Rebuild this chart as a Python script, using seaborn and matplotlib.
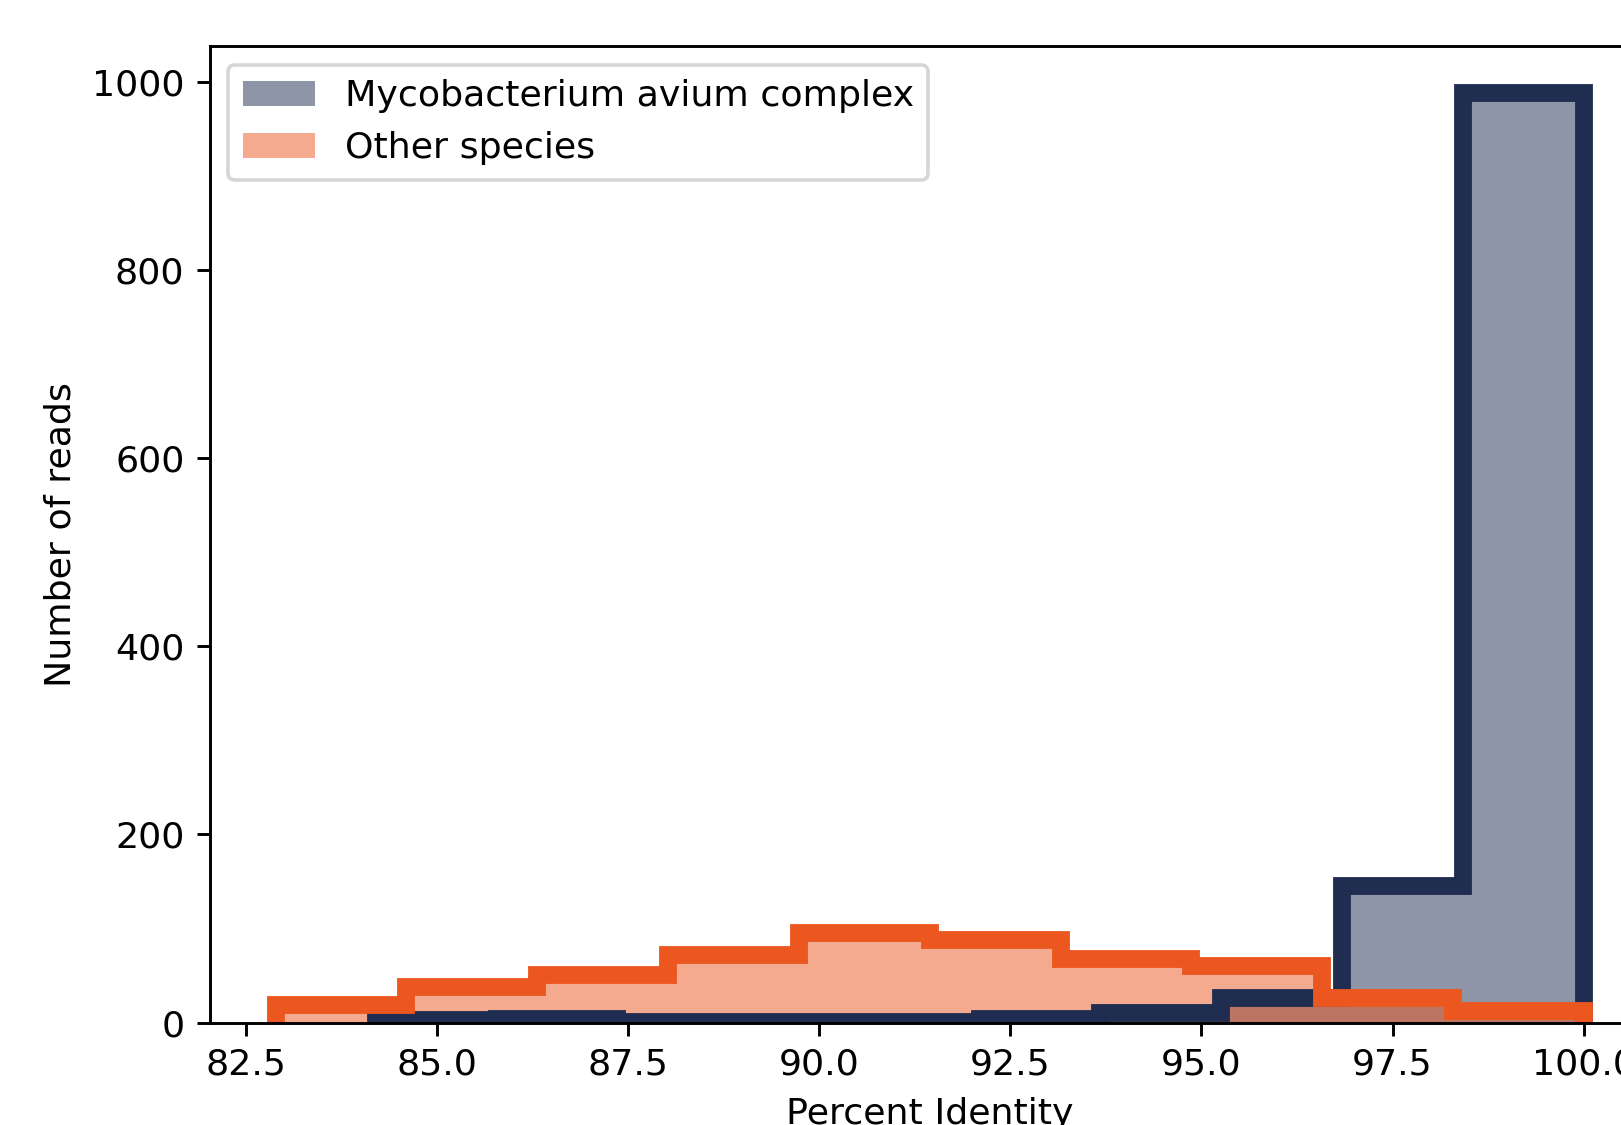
import numpy as np
import matplotlib
matplotlib.use("Agg")
import matplotlib.pyplot as plt
import seaborn as sns

# ── Bin edges and read counts per histogram
mac_label = "Mycobacterium avium complex"
mac_edges = [84.20, 85.78, 87.36, 88.94, 90.52, 92.10,
             93.68, 95.26, 96.84, 98.42, 100.00]
mac_counts = [3, 4, 1, 1, 1, 4, 10, 26, 145, 988]

other_label = "Other species"
other_edges = [82.89, 84.60, 86.31, 88.02, 89.73, 91.45,
               93.16, 94.87, 96.58, 98.29, 100.00]
other_counts = [19, 38, 50, 72, 95, 88, 68, 60, 26, 12]

NAVY = "#1f2d50"
ORANGE = "#eb571e"
LW = 4.9

DPI = 262
fig = plt.figure(figsize=(1621 / DPI, 1125 / DPI), dpi=DPI)
ax = fig.add_axes([0.1295, 0.0911, 0.888, 0.8676])

# ── Filled areas (semi transparent), drawn first
sns.histplot(x=mac_edges[:-1], weights=mac_counts, bins=mac_edges,
             element="step", fill=True, color=NAVY, alpha=0.5,
             linewidth=0, label=mac_label, ax=ax)
sns.histplot(x=other_edges[:-1], weights=other_counts, bins=other_edges,
             element="step", fill=True, color=ORANGE, alpha=0.5,
             linewidth=0, label=other_label, ax=ax)

# ── Thick outlines on top
ax.hist(mac_edges[:-1], bins=mac_edges, weights=mac_counts,
        histtype="step", color=NAVY, linewidth=LW)
ax.hist(other_edges[:-1], bins=other_edges, weights=other_counts,
        histtype="step", color=ORANGE, linewidth=LW)

ax.set_xlim(82.03, 100.86)
ax.set_ylim(0, 1038)
ax.set_xticks([82.5, 85.0, 87.5, 90.0, 92.5, 95.0, 97.5, 100.0])
ax.set_xlabel("Percent Identity")
ax.set_ylabel("Number of reads")
ax.legend(loc="upper left")

fig.savefig("out.png", dpi=DPI)
